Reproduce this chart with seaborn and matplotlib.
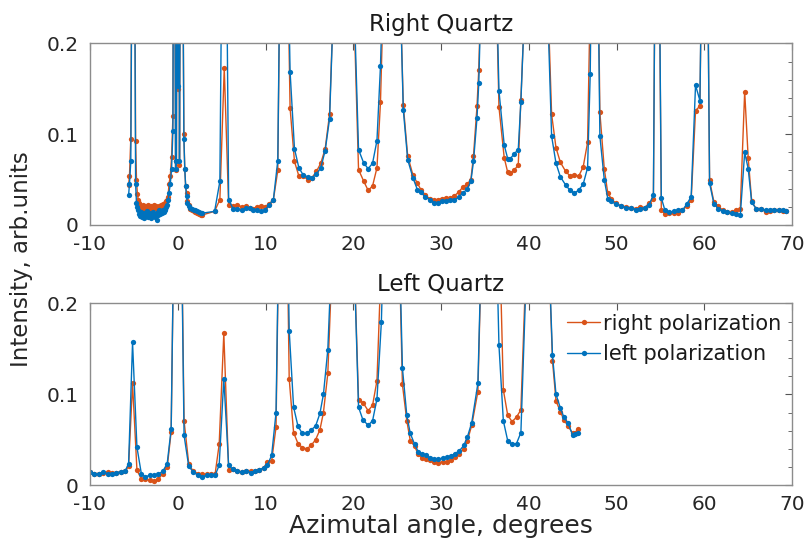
import numpy as np
import pandas as pd
import seaborn as sns
import matplotlib
matplotlib.use("Agg")
import matplotlib.pyplot as plt
from matplotlib.ticker import MultipleLocator

# values; peaks that leave the 0..0.2 window are given as large values
x_top = [-5.6, -5.5, -5.35, -5.05,
         -4.8, -4.7, -4.6, -4.5,
         -4.4, -4.3, -4.2, -4.1, -4.0, -3.9, -3.8, -3.7, -3.6, -3.5, -3.4,
         -3.3, -3.2, -3.1, -3.0, -2.9, -2.8, -2.7, -2.6, -2.5, -2.4, -2.3,
         -2.2, -2.1, -2.0, -1.9, -1.8, -1.7, -1.6, -1.5, -1.4, -1.3, -1.2,
         -1.1, -1.0, -0.85, -0.7, -0.55, -0.42, -0.25, -0.15, -0.05, 0.0, 0.1, 0.2, 0.4,
         0.7, 0.8, 0.9, 1.0, 1.1, 1.25, 1.4, 1.6, 1.8, 2.0, 2.2, 2.4, 2.6, 2.8,
         4.2, 4.8, 5.3, 5.8, 6.3, 6.8, 7.3, 7.8, 8.2, 8.6, 9.05, 9.5, 9.9, 10.4, 10.9, 11.4, 12.0,
         12.8, 13.3, 13.8, 14.3, 14.8, 15.3, 15.8, 16.3, 16.8, 17.3, 19.0,
         20.6, 21.2, 21.7, 22.2, 22.7, 23.1, 24.4,
         25.7, 26.2, 26.8, 27.3, 27.7, 28.2, 28.7, 29.2, 29.7, 30.1, 30.6,
         31.0, 31.5, 32.0, 32.5, 33.0, 33.4, 33.7, 34.1, 34.3, 35.5,
         36.6, 37.2, 37.6, 37.9, 38.3, 38.8, 39.1, 41.0,
         42.6, 43.1, 43.6, 44.2, 44.7, 45.2, 45.7, 46.2, 46.7, 47.0, 47.5,
         48.1, 48.6, 49.0, 49.4, 49.9, 50.5, 51.1, 51.6, 52.2, 52.7, 53.2, 53.7, 54.2, 54.6,
         55.1, 55.5, 56.0, 56.5, 57.0, 57.5, 58.0, 58.5, 59.0, 59.5, 60.1,
         60.6, 61.1, 61.6, 62.1, 62.6, 63.1, 63.6, 64.1, 64.6, 65.0, 65.4,
         65.9, 66.5, 67.0, 67.5, 67.9, 68.5, 69.0, 69.3]

top_right = [0.044, 0.054, 0.095, 0.6,
             0.093, 0.05, 0.034, 0.028,
             0.024, 0.021, 0.019, 0.02, 0.022, 0.018, 0.02, 0.021, 0.017, 0.019, 0.022,
             0.02, 0.018, 0.021, 0.019, 0.016, 0.02, 0.022, 0.019, 0.021, 0.018, 0.02,
             0.017, 0.021, 0.019, 0.022, 0.02, 0.023, 0.021, 0.024, 0.022, 0.026, 0.028,
             0.031, 0.045, 0.054, 0.075, 0.12, 0.6, 0.06, 0.07, 0.5, 0.150, 0.45, 0.066, 0.6,
             0.1, 0.062, 0.043, 0.035, 0.026, 0.022, 0.018, 0.016, 0.015, 0.014, 0.013, 0.012, 0.011, 0.011,
             0.015, 0.028, 0.173, 0.022, 0.021, 0.022, 0.02, 0.021, 0.019, 0.018, 0.02, 0.021, 0.02, 0.023, 0.028, 0.06, 0.6,
             0.129, 0.07, 0.054, 0.054, 0.05, 0.052, 0.059, 0.068, 0.084, 0.122, 0.6,
             0.061, 0.048, 0.038, 0.043, 0.063, 0.135, 0.6,
             0.132, 0.076, 0.055, 0.046, 0.039, 0.033, 0.029, 0.027, 0.028, 0.029, 0.03,
             0.03, 0.032, 0.036, 0.042, 0.045, 0.050, 0.076, 0.131, 0.171, 0.6,
             0.130, 0.074, 0.058, 0.057, 0.06, 0.066, 0.138, 0.6,
             0.122, 0.085, 0.069, 0.059, 0.054, 0.055, 0.054, 0.064, 0.091, 0.25, 0.6,
             0.124, 0.062, 0.035, 0.029, 0.024, 0.021, 0.020, 0.019, 0.018, 0.020, 0.019, 0.024, 0.029, 0.6,
             0.017, 0.012, 0.013, 0.013, 0.013, 0.016, 0.021, 0.027, 0.126, 0.131, 0.6,
             0.049, 0.025, 0.021, 0.016, 0.014, 0.014, 0.016, 0.018, 0.147, 0.074, 0.026,
             0.018, 0.018, 0.014, 0.015, 0.016, 0.016, 0.015, 0.015]

top_left = [0.033, 0.045, 0.070, 0.6,
            0.045, 0.024, 0.02, 0.016,
            0.012, 0.01, 0.014, 0.009, 0.011, 0.013, 0.008, 0.012, 0.01, 0.015, 0.009,
            0.012, 0.011, 0.008, 0.013, 0.01, 0.014, 0.011, 0.009, 0.012, 0.006, 0.014,
            0.011, 0.016, 0.012, 0.015, 0.013, 0.017, 0.014, 0.018, 0.016, 0.02, 0.022,
            0.027, 0.035, 0.045, 0.062, 0.104, 0.6, 0.062, 0.07, 0.5, 0.153, 0.45, 0.07, 0.6,
            0.095, 0.062, 0.043, 0.032, 0.024, 0.021, 0.019, 0.018, 0.017, 0.016, 0.015, 0.014, 0.013, 0.013,
            0.015, 0.048, 0.6, 0.028, 0.018, 0.018, 0.016, 0.019, 0.019, 0.017, 0.016, 0.015, 0.016, 0.022, 0.028, 0.071, 0.6,
            0.169, 0.084, 0.063, 0.055, 0.053, 0.052, 0.056, 0.063, 0.082, 0.117, 0.6,
            0.083, 0.068, 0.062, 0.068, 0.093, 0.175, 0.6,
            0.127, 0.072, 0.052, 0.039, 0.036, 0.031, 0.028, 0.024, 0.024, 0.026, 0.026,
            0.027, 0.027, 0.031, 0.035, 0.040, 0.048, 0.070, 0.118, 0.156, 0.6,
            0.148, 0.088, 0.073, 0.073, 0.078, 0.083, 0.136, 0.6,
            0.098, 0.068, 0.053, 0.044, 0.038, 0.035, 0.0385, 0.045, 0.063, 0.166, 0.6,
            0.098, 0.050, 0.029, 0.026, 0.023, 0.021, 0.019, 0.019, 0.017, 0.018, 0.019, 0.022, 0.033, 0.6,
            0.030, 0.0165, 0.014, 0.015, 0.016, 0.016, 0.023, 0.031, 0.154, 0.137, 0.6,
            0.046, 0.023, 0.018, 0.015, 0.014, 0.013, 0.012, 0.0105, 0.080, 0.062, 0.025,
            0.018, 0.018, 0.016, 0.017, 0.017, 0.016, 0.016, 0.015]

x_bot = [-10.0, -9.5, -9.0, -8.5, -8.0, -7.5, -7.0, -6.5, -6.0,
         -5.6, -5.15, -4.65, -4.15, -3.7, -3.2, -2.7, -2.2, -1.7, -1.2, -0.75,
         0.0, 0.72, 1.25, 1.75, 2.3, 2.8, 3.3, 3.8, 4.25,
         4.72, 5.25, 5.8, 6.3, 6.8, 7.3, 7.8, 8.3, 8.8, 9.3, 9.8, 10.2, 10.7, 11.2, 12.0,
         12.7, 13.2, 13.7, 14.2, 14.7, 15.2, 15.7, 16.2, 16.6, 17.1, 19.0,
         20.6, 21.1, 21.7, 22.2, 22.7, 23.2, 24.4,
         25.6, 26.1, 26.5, 27.0, 27.4, 27.8, 28.3, 28.8, 29.2, 29.7,
         30.2, 30.7, 31.1, 31.6, 32.1, 32.6, 33.0, 33.5, 34.2, 35.5,
         36.6, 37.1, 37.6, 38.1, 38.6, 39.1, 41.0,
         42.7, 43.1, 43.6, 44.0, 44.5, 45.0, 45.3, 45.6]

bot_right = [0.015, 0.013, 0.013, 0.0135, 0.015, 0.0137, 0.014, 0.015, 0.0155,
             0.021, 0.112, 0.017, 0.007, 0.007, 0.006, 0.0045, 0.007, 0.013, 0.020, 0.059,
             0.6, 0.071, 0.024, 0.0155, 0.013, 0.0125, 0.012, 0.0125, 0.012,
             0.045, 0.167, 0.017, 0.0175, 0.016, 0.0145, 0.016, 0.0155, 0.016, 0.017, 0.0195, 0.0255, 0.027, 0.064, 0.6,
             0.117, 0.058, 0.046, 0.0415, 0.040, 0.044, 0.050, 0.061, 0.080, 0.123, 0.6,
             0.094, 0.091, 0.082, 0.088, 0.115, 0.25, 0.6,
             0.111, 0.071, 0.049, 0.043, 0.034, 0.030, 0.029, 0.028, 0.026, 0.025,
             0.026, 0.026, 0.028, 0.031, 0.035, 0.040, 0.049, 0.066, 0.103, 0.6,
             0.3, 0.105, 0.077, 0.070, 0.075, 0.083, 0.6,
             0.137, 0.093, 0.081, 0.072, 0.065, 0.057, 0.058, 0.062]

bot_left = [0.015, 0.0126, 0.013, 0.0142, 0.013, 0.013, 0.0137, 0.015, 0.0155,
            0.024, 0.157, 0.042, 0.013, 0.0094, 0.011, 0.011, 0.0125, 0.0155, 0.024, 0.062,
            0.6, 0.055, 0.021, 0.015, 0.011, 0.0094, 0.011, 0.011, 0.011,
            0.022, 0.117, 0.022, 0.0175, 0.016, 0.0145, 0.016, 0.014, 0.016, 0.017, 0.0195, 0.022, 0.033, 0.080, 0.6,
            0.170, 0.086, 0.065, 0.057, 0.057, 0.061, 0.065, 0.079, 0.100, 0.149, 0.6,
            0.086, 0.072, 0.066, 0.071, 0.095, 0.179, 0.6,
            0.129, 0.077, 0.057, 0.045, 0.037, 0.034, 0.033, 0.030, 0.029, 0.029,
            0.030, 0.031, 0.032, 0.035, 0.038, 0.044, 0.053, 0.069, 0.112, 0.6,
            0.154, 0.071, 0.049, 0.045, 0.046, 0.058, 0.6,
            0.143, 0.100, 0.085, 0.075, 0.068, 0.055, 0.056, 0.058]

orange = "#D95319"
blue = "#0072BD"

sns.set_style("white")
plt.rcParams["font.family"] = ["DejaVu Sans"]
plt.rcParams["axes.unicode_minus"] = False

fig = plt.figure(figsize=(8.07, 5.46), dpi=100)
ax1 = fig.add_axes([0.1115, 0.588, 0.870, 0.3325])
ax2 = fig.add_axes([0.1115, 0.111, 0.870, 0.3335])


def draw(ax, x, yr, yl, title):
    df = pd.DataFrame({"x": x, "right": yr, "left": yl})
    sns.lineplot(data=df, x="x", y="right", ax=ax, color=orange, lw=1.0,
                 marker="o", markersize=3.8, markeredgewidth=0,
                 estimator=None, sort=False, label="right polarization")
    sns.lineplot(data=df, x="x", y="left", ax=ax, color=blue, lw=1.0,
                 marker="o", markersize=3.8, markeredgewidth=0,
                 estimator=None, sort=False, label="left polarization")
    ax.set_xlim(-10, 70)
    ax.set_ylim(0, 0.2)
    ax.set_xticks(range(-10, 71, 10))
    ax.set_yticks([0, 0.1, 0.2])
    ax.set_yticklabels(["0", "0.1", "0.2"])
    ax.yaxis.set_minor_locator(MultipleLocator(0.02))
    ax.tick_params(which="both", direction="in", top=True, right=True,
                   colors="#555555", labelcolor="#262626", labelsize=14.5)
    ax.tick_params(axis="x", pad=7)
    ax.tick_params(axis="y", pad=8)
    ax.tick_params(which="major", length=5, width=0.8)
    ax.tick_params(which="minor", length=3, width=0.6)
    for s in ax.spines.values():
        s.set_color("#8c8c8c")
        s.set_linewidth(1.0)
    ax.set_xlabel("")
    ax.set_ylabel("")
    ax.set_title(title, fontsize=16.5, color="#1a1a1a", pad=9)


draw(ax1, x_top, top_right, top_left, "Right Quartz")
draw(ax2, x_bot, bot_right, bot_left, "Left Quartz")

ax1.get_legend().remove()
leg = ax2.legend(loc="upper right", frameon=False, fontsize=15,
                 handlelength=1.6, handletextpad=0.15, labelspacing=0.5,
                 borderpad=0.25, borderaxespad=0.25)
for t in leg.get_texts():
    t.set_color("#1a1a1a")

ax2.set_xlabel("Azimutal angle, degrees", fontsize=18, color="#262626", labelpad=0)
fig.text(0.027, 0.525, "Intensity, arb.units", rotation=90, fontsize=16.5,
         color="#262626", ha="center", va="center")

fig.savefig("out.png", dpi=100)
